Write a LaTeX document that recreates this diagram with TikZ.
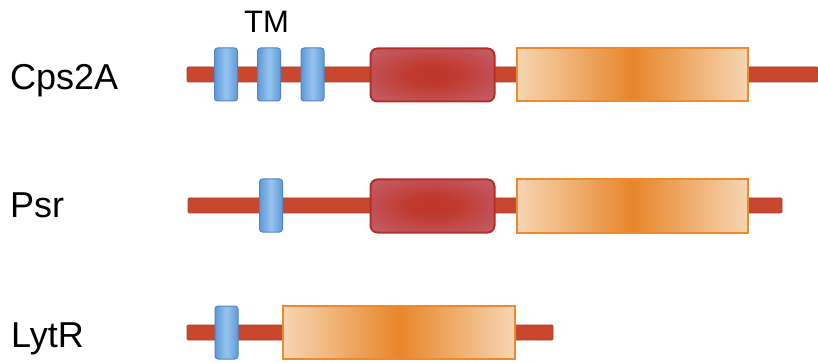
\documentclass[tikz,border=0pt]{standalone}
\usepackage{fontspec}
\setmainfont{Liberation Sans}

\definecolor{chainred}{HTML}{C9472F}
\definecolor{chainedge}{HTML}{B23A26}
\definecolor{tmlight}{HTML}{96C4EE}
\definecolor{tmdark}{HTML}{6099D8}
\definecolor{tmedge}{HTML}{4C86C8}
\definecolor{midred}{HTML}{BF3528}
\definecolor{outred}{HTML}{C46878}
\definecolor{rededge}{HTML}{B3302A}
\definecolor{lcpmid}{HTML}{E8862A}
\definecolor{lcpout}{HTML}{F7D5B3}
\definecolor{lcpedge}{HTML}{EC8A2E}

\pgfdeclareradialshading{redglow}{\pgfpoint{0bp}{0bp}}{color(0bp)=(midred); color(10bp)=(midred!90!outred); color(40bp)=(outred); color(50bp)=(outred)}

\begin{document}
\begin{tikzpicture}[x=1pt, y=-1pt,
	chain/.style={fill=chainred, draw=chainedge, line width=0.6pt, rounded corners=1pt},
	tmbox/.style={draw=tmedge, line width=1pt, rounded corners=3pt, left color=tmdark, right color=tmdark, middle color=tmlight, minimum width=23pt, minimum height=53pt, inner sep=0pt},
	redbox/.style={draw=rededge, line width=2pt, rounded corners=7pt, shading=redglow, minimum width=124pt, minimum height=53pt, inner sep=0pt},
	lcpbox/.style={draw=lcpedge, line width=2pt, left color=lcpout, right color=lcpout, middle color=lcpmid, minimum height=53pt, inner sep=0pt},
	protname/.style={font=\fontsize{36}{40}\selectfont, anchor=base west, inner sep=0pt}]
	\useasboundingbox (0,0) rectangle (818,363);

	% Cps2A
	\node[protname] (cps) at (10,90) {Cps2A};
	\fill[chain] (187,67) rectangle (818,82);
	\foreach \x/\n in {226/a, 269/b, 312.5/c}
		\node[tmbox] (tm\n) at (\x,74.5) {};
	\node[font=\fontsize{31}{36}\selectfont, anchor=base, inner sep=0pt] (tmlabel) at (266.5,33) {TM};
	\node[redbox] (red1) at (432.5,75) {};
	\node[lcpbox, minimum width=231pt] (lcp1) at (632.5,75) {};

	% Psr
	\node[protname] (psr) at (10,218) {Psr};
	\fill[chain] (188,198) rectangle (782,213);
	\node[tmbox] (tmd) at (271,205.5) {};
	\node[redbox] (red2) at (432.5,206) {};
	\node[lcpbox, minimum width=231pt] (lcp2) at (632.5,206) {};

	% LytR
	\node[protname] (lytr) at (11,347) {LytR};
	\fill[chain] (187,325) rectangle (553,340);
	\node[tmbox] (tme) at (226.5,332.5) {};
	\node[lcpbox, minimum width=232pt] (lcp3) at (399,332.5) {};
\end{tikzpicture}
\end{document}
